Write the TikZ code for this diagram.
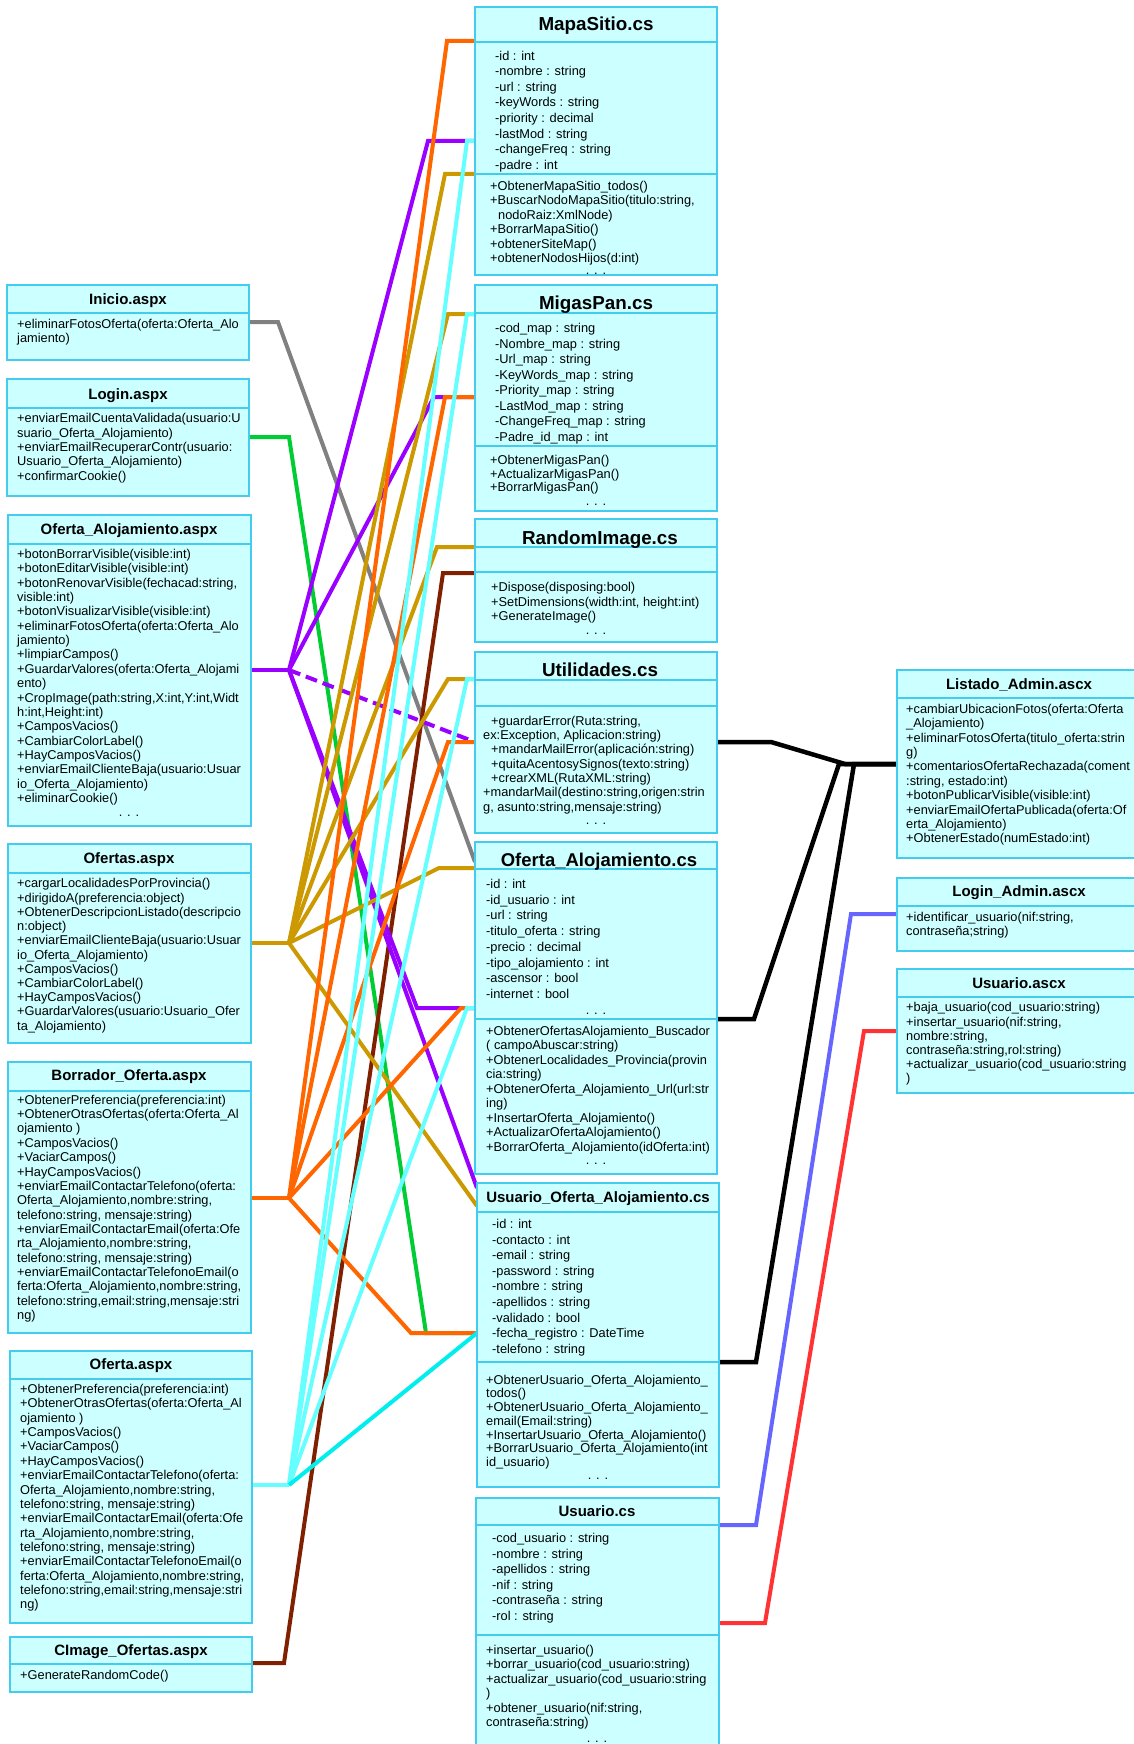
\documentclass[tikz,border=0pt]{standalone}
\usepackage{fontspec}
\setmainfont{Liberation Sans}
\usetikzlibrary{backgrounds}
\definecolor{boxfill}{HTML}{CCFFFF}
\definecolor{boxline}{HTML}{44CCEE}
\definecolor{cOrange}{HTML}{FF6600}
\definecolor{cPurple}{HTML}{9900FF}
\definecolor{cGold}{HTML}{CC9900}
\definecolor{cLCyan}{HTML}{66FFFF}
\definecolor{cCyan}{HTML}{00EEEE}
\definecolor{cGreen}{HTML}{00CC33}
\definecolor{cGray}{HTML}{808080}
\definecolor{cMaroon}{HTML}{802000}
\definecolor{cBlue}{HTML}{6666FF}
\definecolor{cRed}{HTML}{FF3333}
\newcommand\fsz[1]{\fontsize{12.8}{#1}\selectfont}
\newcommand\fr{\rule{0pt}{10pt}}
\newcommand\umlbx[5]{%
  \pgfmathsetmacro\umlw{#4-#2}\pgfmathsetmacro\umlh{#5-#3}%
  \node[umlbox, minimum width=\umlw pt, minimum height=\umlh pt] (#1) at (#2,#3) {};}
\newcommand\umlsep[2]{\draw[sepline] (#1.west |- 0,#2) -- (#1.east |- 0,#2);}
\begin{document}
\begin{tikzpicture}[x=1pt,y=-1pt,
  umlbox/.style={draw=boxline, fill=boxfill, line width=1.2pt, anchor=north west, inner sep=0pt, outer sep=0pt},
  sepline/.style={draw=boxline, line width=1.2pt},
  txt/.style={anchor=north west, align=left, inner sep=0pt},
  ttlb/.style={anchor=base, inner sep=0pt, font=\bfseries\fontsize{18.8}{19}\selectfont},
  ttls/.style={anchor=base, inner sep=0pt, font=\bfseries\fontsize{15}{15}\selectfont},
  dotsn/.style={anchor=base, inner sep=0pt, font=\fsz{13}},
  conn/.style={line width=4pt},
  lk/.style={line width=4.5pt}]
\useasboundingbox (0,0) rectangle (1133,1744);

% ---------------- boxes (center column)
\umlbx{mapa}{475}{7}{717}{275}
\umlsep{mapa}{42}\umlsep{mapa}{174}
\node[ttlb] (mapa-t) at (596,31) {MapaSitio.cs};
\node[txt, font=\fsz{15.6}] (mapa-a) at (495,50) {\fr-id : int\\-nombre : string\\-url : string\\-keyWords : string\\-priority : decimal\\-lastMod : string\\-changeFreq : string\\-padre : int};
\node[txt, font=\fsz{14.55}] (mapa-m) at (490,180) {\fr+ObtenerMapaSitio\_todos()\\+BuscarNodoMapaSitio(titulo:string,\\\hspace*{8pt}nodoRaiz:XmlNode)\\+BorrarMapaSitio()\\+obtenerSiteMap()\\+obtenerNodosHijos(d:int)};
\node[dotsn] (mapa-d) at (596,274) {. . .};

\umlbx{migas}{475}{285}{717}{511}
\umlsep{migas}{313}\umlsep{migas}{446}
\node[ttlb] (migas-t) at (596,309) {MigasPan.cs};
\node[txt, font=\fsz{15.48}] (migas-a) at (495,322.7) {\fr-cod\_map : string\\-Nombre\_map : string\\-Url\_map : string\\-KeyWords\_map : string\\-Priority\_map : string\\-LastMod\_map : string\\-ChangeFreq\_map : string\\-Padre\_id\_map : int};
\node[txt, font=\fsz{13.8}] (migas-m) at (490,454) {\fr+ObtenerMigasPan()\\+ActualizarMigasPan()\\+BorrarMigasPan()};
\node[dotsn] (migas-d) at (596,505) {. . .};

\umlbx{random}{475}{519}{717}{642}
\umlsep{random}{547}\umlsep{random}{572}
\node[ttlb] (random-t) at (600,544) {RandomImage.cs};
\node[txt, font=\fsz{14.2}] (random-m) at (491,581.7) {\fr+Dispose(disposing:bool)\\+SetDimensions(width:int, height:int)\\+GenerateImage()};
\node[dotsn] (random-d) at (596,634) {. . .};

\umlbx{util}{475}{652}{717}{833}
\umlsep{util}{680}\umlsep{util}{706}
\node[ttlb] (util-t) at (600,676) {Utilidades.cs};
\node[txt, font=\fsz{14.3}] (util-m) at (483,715) {\fr\hspace*{8pt}+guardarError(Ruta:string,\\ex:Exception, Aplicacion:string)\\\hspace*{8pt}+mandarMailError(aplicación:string)\\\hspace*{8pt}+quitaAcentosySignos(texto:string)\\\hspace*{8pt}+crearXML(RutaXML:string)\\+mandarMail(destino:string,origen:strin\\g, asunto:string,mensaje:string)};
\node[dotsn] (util-d) at (596,824) {. . .};

\umlbx{ofcs}{475}{842}{717}{1174}
\umlsep{ofcs}{869}\umlsep{ofcs}{1019}
\node[ttlb, font=\bfseries\fontsize{18.5}{19}\selectfont] (ofcs-t) at (599,866) {Oferta\_Alojamiento.cs};
\node[txt, font=\fsz{15.7}] (ofcs-a) at (486,878.3) {\fr-id : int\\-id\_usuario : int\\-url : string\\-titulo\_oferta : string\\-precio : decimal\\-tipo\_alojamiento : int\\-ascensor : bool\\-internet : bool};
\node[dotsn] (ofcs-d1) at (596,1014) {. . .};
\node[txt, font=\fsz{14.5}] (ofcs-m) at (486,1025) {\fr+ObtenerOfertasAlojamiento\_Buscador\\( campoAbuscar:string)\\+ObtenerLocalidades\_Provincia(provin\\cia:string)\\+ObtenerOferta\_Alojamiento\_Url(url:str\\ing)\\+InsertarOferta\_Alojamiento()\\+ActualizarOfertaAlojamiento()\\+BorrarOferta\_Alojamiento(idOferta:int)};
\node[dotsn] (ofcs-d2) at (596,1164) {. . .};

\umlbx{uoa}{477}{1183}{719}{1487}
\umlsep{uoa}{1212}\umlsep{uoa}{1362}
\node[ttls] (uoa-t) at (598,1202.4) {Usuario\_Oferta\_Alojamiento.cs};
\node[txt, font=\fsz{15.6}] (uoa-a) at (492,1218.3) {\fr-id : int\\-contacto : int\\-email : string\\-password : string\\-nombre : string\\-apellidos : string\\-validado : bool\\-fecha\_registro : DateTime\\-telefono : string};
\node[txt, font=\fsz{13.7}] (uoa-m) at (486,1374) {\fr+ObtenerUsuario\_Oferta\_Alojamiento\_\\todos()\\+ObtenerUsuario\_Oferta\_Alojamiento\_\\email(Email:string)\\+InsertarUsuario\_Oferta\_Alojamiento()\\+BorrarUsuario\_Oferta\_Alojamiento(int\\id\_usuario)};
\node[dotsn] (uoa-d) at (598,1479) {. . .};

\umlbx{usucs}{476}{1498}{719}{1760}
\umlsep{usucs}{1525}\umlsep{usucs}{1635}
\node[ttls] (usucs-t) at (597,1516.4) {Usuario.cs};
\node[txt, font=\fsz{15.47}] (usucs-a) at (492,1532.7) {\fr-cod\_usuario : string\\-nombre : string\\-apellidos : string\\-nif : string\\-contraseña : string\\-rol : string};
\node[txt, font=\fsz{14.47}] (usucs-m) at (486,1644) {\fr+insertar\_usuario()\\+borrar\_usuario(cod\_usuario:string)\\+actualizar\_usuario(cod\_usuario:string\\)\\+obtener\_usuario(nif:string,\\contraseña:string)};
\node[dotsn] (usucs-d) at (597,1742) {. . .};

% ---------------- left column
\umlbx{inicio}{7}{285}{249}{360}
\umlsep{inicio}{313}
\node[ttls] (inicio-t) at (128,304.4) {Inicio.aspx};
\node[txt, font=\fsz{14}] (inicio-m) at (17,318.3) {\fr+eliminarFotosOferta(oferta:Oferta\_Alo\\jamiento)};

\umlbx{login}{7}{379}{249}{496}
\umlsep{login}{408}
\node[ttls] (login-t) at (128,399.4) {Login.aspx};
\node[txt, font=\fsz{14.3}] (login-m) at (17,412.7) {\fr+enviarEmailCuentaValidada(usuario:U\\suario\_Oferta\_Alojamiento)\\+enviarEmailRecuperarContr(usuario:\\Usuario\_Oferta\_Alojamiento)\\+confirmarCookie()};

\umlbx{ofaspx}{8}{515}{251}{826}
\umlsep{ofaspx}{544}
\node[ttls] (ofaspx-t) at (129,534.4) {Oferta\_Alojamiento.aspx};
\node[txt, font=\fsz{14.35}] (ofaspx-m) at (17,548.3) {\fr+botonBorrarVisible(visible:int)\\+botonEditarVisible(visible:int)\\+botonRenovarVisible(fechacad:string,\\visible:int)\\+botonVisualizarVisible(visible:int)\\+eliminarFotosOferta(oferta:Oferta\_Alo\\jamiento)\\+limpiarCampos()\\+GuardarValores(oferta:Oferta\_Alojami\\ento)\\+CropImage(path:string,X:int,Y:int,Widt\\h:int,Height:int)\\+CamposVacios()\\+CambiarColorLabel()\\+HayCamposVacios()\\+enviarEmailClienteBaja(usuario:Usuar\\io\_Oferta\_Alojamiento)\\+eliminarCookie()};
\node[dotsn] (ofaspx-d) at (129,816) {. . .};

\umlbx{ofertas}{8}{844}{251}{1043}
\umlsep{ofertas}{873}
\node[ttls] (ofertas-t) at (129,863.4) {Ofertas.aspx};
\node[txt, font=\fsz{14.23}] (ofertas-m) at (17,877.7) {\fr+cargarLocalidadesPorProvincia()\\+dirigidoA(preferencia:object)\\+ObtenerDescripcionListado(descripcio\\n:object)\\+enviarEmailClienteBaja(usuario:Usuar\\io\_Oferta\_Alojamiento)\\+CamposVacios()\\+CambiarColorLabel()\\+HayCamposVacios()\\+GuardarValores(usuario:Usuario\_Ofer\\ta\_Alojamiento)};

\umlbx{borrador}{8}{1062}{251}{1333}
\umlsep{borrador}{1091}
\node[ttls] (borrador-t) at (129,1080.4) {Borrador\_Oferta.aspx};
\node[txt, font=\fsz{14.36}] (borrador-m) at (17,1094) {\fr+ObtenerPreferencia(preferencia:int)\\+ObtenerOtrasOfertas(oferta:Oferta\_Al\\ojamiento )\\+CamposVacios()\\+VaciarCampos()\\+HayCamposVacios()\\+enviarEmailContactarTelefono(oferta:\\Oferta\_Alojamiento,nombre:string,\\telefono:string, mensaje:string)\\+enviarEmailContactarEmail(oferta:Ofe\\rta\_Alojamiento,nombre:string,\\telefono:string, mensaje:string)\\+enviarEmailContactarTelefonoEmail(o\\ferta:Oferta\_Alojamiento,nombre:string,\\telefono:string,email:string,mensaje:stri\\ng)};

\umlbx{oferta}{10}{1351}{252}{1623}
\umlsep{oferta}{1379}
\node[ttls] (oferta-t) at (131,1369.4) {Oferta.aspx};
\node[txt, font=\fsz{14.36}] (oferta-m) at (20,1383.3) {\fr+ObtenerPreferencia(preferencia:int)\\+ObtenerOtrasOfertas(oferta:Oferta\_Al\\ojamiento )\\+CamposVacios()\\+VaciarCampos()\\+HayCamposVacios()\\+enviarEmailContactarTelefono(oferta:\\Oferta\_Alojamiento,nombre:string,\\telefono:string, mensaje:string)\\+enviarEmailContactarEmail(oferta:Ofe\\rta\_Alojamiento,nombre:string,\\telefono:string, mensaje:string)\\+enviarEmailContactarTelefonoEmail(o\\ferta:Oferta\_Alojamiento,nombre:string,\\telefono:string,email:string,mensaje:stri\\ng)};

\umlbx{cimage}{10}{1637}{252}{1692}
\umlsep{cimage}{1664}
\node[ttls] (cimage-t) at (131,1655.4) {CImage\_Ofertas.aspx};
\node[txt, font=\fsz{14}] (cimage-m) at (20,1669.3) {\fr+GenerateRandomCode()};

% ---------------- right column
\umlbx{listado}{897}{670}{1141}{858}
\umlsep{listado}{698}
\node[ttls] (listado-t) at (1019,689.4) {Listado\_Admin.ascx};
\node[txt, font=\fsz{14.37}] (listado-m) at (906,703.3) {\fr+cambiarUbicacionFotos(oferta:Oferta\\\_Alojamiento)\\+eliminarFotosOferta(titulo\_oferta:strin\\g)\\+comentariosOfertaRechazada(coment\\:string, estado:int)\\+botonPublicarVisible(visible:int)\\+enviarEmailOfertaPublicada(oferta:Of\\erta\_Alojamiento)\\+ObtenerEstado(numEstado:int)};

\umlbx{loginadm}{897}{878}{1141}{951}
\umlsep{loginadm}{906}
\node[ttls] (loginadm-t) at (1019,896.4) {Login\_Admin.ascx};
\node[txt, font=\fsz{13.6}] (loginadm-m) at (906,911.7) {\fr+identificar\_usuario(nif:string,\\contraseña;string)};

\umlbx{usuascx}{897}{969}{1141}{1093}
\umlsep{usuascx}{997}
\node[ttls] (usuascx-t) at (1019,988) {Usuario.ascx};
\node[txt, font=\fsz{14.2}] (usuascx-m) at (906,1001.7) {\fr+baja\_usuario(cod\_usuario:string)\\+insertar\_usuario(nif:string,\\nombre:string,\\contraseña:string,rol:string)\\+actualizar\_usuario(cod\_usuario:string\\)};

% ---------------- connectors
\coordinate (hubP) at (289,670);
\coordinate (hubG) at (289,943);
\coordinate (hubO) at (289,1198);
\coordinate (hubC) at (289,1485);
\coordinate (hubK) at (839,764);

\begin{pgfonlayer}{background}
\fill[white] (0,0) rectangle (1133,1744);
% gray
\draw[conn, cGray] (inicio.east |- 0,322) -- (278,322) -- (ofcs.west |- 0,862);
% green
\draw[conn, cGreen] (login.east |- 0,437) -- (289,437) -- (426,1333) -- (uoa.west |- 0,1333);
% maroon
\draw[conn, cMaroon] (cimage.east |- 0,1663) -- (284,1663) -- (443,573) -- (random.west |- 0,573);
% purple
\draw[conn, cPurple] (ofaspx.east |- 0,670) -- (hubP);
\draw[conn, cPurple] (hubP) -- (428,141) -- (mapa.west |- 0,141);
\draw[conn, cPurple] (hubP) -- (434,397) -- (migas.west |- 0,397);
\draw[conn, cPurple, dash pattern=on 12pt off 6pt] (hubP) -- (util.west |- 0,742);
\draw[conn, cPurple] (hubP) -- (417,1008) -- (ofcs.west |- 0,1008);
\draw[conn, cPurple] (hubP) -- (uoa.west |- 0,1188);
% gold
\draw[conn, cGold] (ofertas.east |- 0,943) -- (hubG);
\draw[conn, cGold] (hubG) -- (445,174) -- (mapa.west |- 0,174);
\draw[conn, cGold] (hubG) -- (448,314) -- (migas.west |- 0,314);
\draw[conn, cGold] (hubG) -- (437,547) -- (random.west |- 0,547);
\draw[conn, cGold] (hubG) -- (448,679) -- (util.west |- 0,679);
\draw[conn, cGold] (hubG) -- (439,868) -- (ofcs.west |- 0,868);
\draw[conn, cGold] (hubG) -- (uoa.west |- 0,1206);
% orange
\draw[conn, cOrange] (borrador.east |- 0,1198) -- (hubO);
\draw[conn, cOrange] (hubO) -- (447,41) -- (mapa.west |- 0,41);
\draw[conn, cOrange] (hubO) -- (445,397) -- (migas.west |- 0,397);
\draw[conn, cOrange] (hubO) -- (448,742) -- (util.west |- 0,742);
\draw[conn, cOrange] (hubO) -- (461,1008) -- (ofcs.west |- 0,1008);
\draw[conn, cOrange] (hubO) -- (411,1333) -- (uoa.west |- 0,1333);
% light cyan
\draw[conn, cLCyan] (oferta.east |- 0,1485) -- (hubC);
\draw[conn, cLCyan] (hubC) -- (467,141) -- (mapa.west |- 0,141);
\draw[conn, cLCyan] (hubC) -- (467,314) -- (migas.west |- 0,314);
\draw[conn, cLCyan] (hubC) -- (467,679) -- (util.west |- 0,679);
\draw[conn, cLCyan] (hubC) -- (467,1008) -- (ofcs.west |- 0,1008);
\draw[conn, cCyan] (hubC) -- (uoa.west |- 0,1333);
% black
\draw[lk, black] (util.east |- 0,742) -- (771,742) -- (845,764) -- (listado.west |- 0,764);
\draw[lk, black] (ofcs.east |- 0,1019) -- (754,1019) -- (hubK) -- (listado.west |- 0,764);
\draw[lk, black] (uoa.east |- 0,1362) -- (756,1362) -- (854,764) -- (listado.west |- 0,764);
% blue
\draw[conn, cBlue] (usucs.east |- 0,1525) -- (756,1525) -- (851,914) -- (loginadm.west |- 0,914);
% red
\draw[conn, cRed] (usucs.east |- 0,1623) -- (765,1623) -- (864,1031) -- (usuascx.west |- 0,1031);
\end{pgfonlayer}
\end{tikzpicture}
\end{document}
